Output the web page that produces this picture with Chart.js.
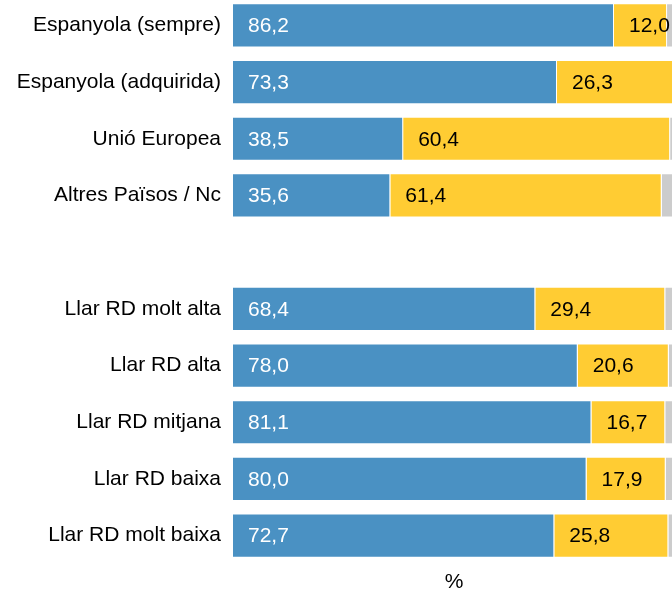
<!DOCTYPE html>
<html>
<head>
<meta charset="utf-8">
<script src="https://cdn.jsdelivr.net/npm/chart.js@4.4.1/dist/chart.umd.min.js"></script>
<style>
  html, body { margin: 0; padding: 0; background: #fff; overflow: hidden; }
  #wrap { position: absolute; left: 0; top: -3px; width: 675px; height: 598px; }
</style>
</head>
<body>
<div id="wrap"><canvas id="chart"></canvas></div>
<script>
    // Categories (empty one separates the two groups)
    const categories = [
        'Espanyola (sempre)', 'Espanyola (adquirida)', 'Unió Europea', 'Altres Països / Nc',
        '',
        'Llar RD molt alta', 'Llar RD alta', 'Llar RD mitjana', 'Llar RD baixa', 'Llar RD molt baixa'
    ];
    const serieBlau = [86.2, 73.3, 38.5, 35.6, null, 68.4, 78.0, 81.1, 80.0, 72.7];
    const serieGroc = [12.0, 26.3, 60.4, 61.4, null, 29.4, 20.6, 16.7, 17.9, 25.8];
    const serieGris = [1.8, 0.4, 1.1, 3.0, null, 2.2, 1.4, 2.2, 2.1, 1.5];

    const FONT = 'Arial, "Liberation Sans", Helvetica, sans-serif';

    const barLabels = {
        id: 'barLabels',
        afterDatasetsDraw: function (chart) {
            const ctx = chart.ctx;
            ctx.save();
            ctx.font = '21px ' + FONT;
            ctx.textAlign = 'left';
            ctx.textBaseline = 'middle';
            [0, 1].forEach(function (di) {
                const meta = chart.getDatasetMeta(di);
                const ds = chart.data.datasets[di];
                meta.data.forEach(function (bar, i) {
                    const v = ds.data[i];
                    if (v == null) return;
                    const left = Math.min(bar.x, bar.base);
                    ctx.fillStyle = di === 0 ? '#ffffff' : '#000000';
                    ctx.fillText(v.toFixed(1).replace('.', ','), left + 15, bar.y + 1);
                });
            });
            ctx.restore();
        }
    };

    new Chart(document.getElementById('chart'), {
        type: 'bar',
        data: {
            labels: categories,
            datasets: [
                { data: serieBlau, backgroundColor: '#4a91c3' },
                { data: serieGroc, backgroundColor: '#ffcc33' },
                { data: serieGris, backgroundColor: '#cccccc' }
            ].map(function (d) {
                d.borderColor = 'rgba(255,255,255,0.55)';
                d.borderWidth = 1;
                d.categoryPercentage = 1;
                d.barPercentage = 0.78;
                return d;
            })
        },
        options: {
            indexAxis: 'y',
            responsive: true,
            maintainAspectRatio: false,
            animation: false,
            layout: { padding: 0 },
            plugins: {
                legend: { display: false },
                tooltip: { enabled: false }
            },
            scales: {
                x: {
                    stacked: true,
                    min: 0,
                    max: 100,
                    grid: { display: false, drawTicks: false },
                    border: { display: false },
                    ticks: { display: false },
                    title: {
                        display: true,
                        text: '%',
                        color: '#000',
                        font: { family: FONT, size: 21 },
                        padding: { top: 0, bottom: 0 }
                    },
                    afterFit: function (scale) { scale.height = 31; }
                },
                y: {
                    stacked: true,
                    grid: { display: false, drawTicks: false },
                    border: { display: false },
                    ticks: {
                        color: '#000',
                        padding: 12,
                        font: { family: FONT, size: 21 }
                    },
                    afterFit: function (scale) {
                        scale.width = 233;
                        scale.paddingTop = 0;
                        scale.paddingBottom = 0;
                    }
                }
            }
        },
        plugins: [barLabels]
    });
</script>
</body>
</html>
